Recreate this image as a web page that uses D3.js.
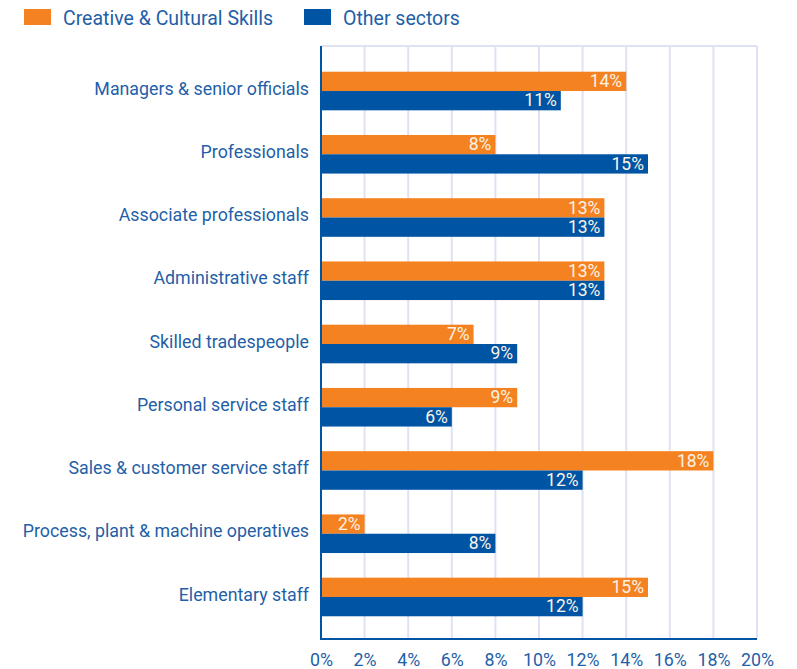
<!DOCTYPE html>
<html>
<head>
<meta charset="utf-8">
<script src="https://cdn.jsdelivr.net/npm/d3@7"></script>
<style>
  html, body { margin: 0; padding: 0; background: #ffffff; }
  svg { display: block; font-family: Roboto, "DejaVu Sans", sans-serif; }
</style>
</head>
<body>
<svg id="chart" width="797" height="669"></svg>
<script>
// Occupational profile: Creative & Cultural Skills vs other sectors (% of workforce)
const categories = [
  "Managers & senior officials",
  "Professionals",
  "Associate professionals",
  "Administrative staff",
  "Skilled tradespeople",
  "Personal service staff",
  "Sales & customer service staff",
  "Process, plant & machine operatives",
  "Elementary staff"
];
const creativeValues = [14, 8, 13, 13, 7, 9, 18, 2, 15];
const otherValues    = [11, 15, 13, 13, 9, 6, 12, 8, 12];
const seriesNames = ["Creative & Cultural Skills", "Other sectors"];
const xTicks = [0, 2, 4, 6, 8, 10, 12, 14, 16, 18, 20];

const colors = { creative: "#f58220", other: "#0054a4", text: "#1f5fa8", grid: "#dfe2f3", label: "#fbf3e6" };

const svg = d3.select("#chart");
const plot = { left: 321, right: 757, top: 46, bottom: 639 };

const x = d3.scaleLinear().domain([0, 20]).range([plot.left, plot.right]);
const y = d3.scaleBand().domain(categories).range([59.4, 628.6]).paddingInner(0).paddingOuter(0);
const barH = 19.3;

// vertical gridlines
svg.append("g").selectAll("line").data(xTicks.slice(1)).join("line")
  .attr("x1", d => x(d)).attr("x2", d => x(d))
  .attr("y1", plot.top).attr("y2", plot.bottom)
  .attr("stroke", colors.grid).attr("stroke-width", 2);
// top border line
svg.append("line")
  .attr("x1", plot.left).attr("x2", plot.right)
  .attr("y1", plot.top).attr("y2", plot.top)
  .attr("stroke", colors.grid).attr("stroke-width", 2);

const rows = categories.map((c, i) => ({ c, a: creativeValues[i], b: otherValues[i] }));

// bars
const g = svg.append("g");
g.selectAll("rect.creative").data(rows).join("rect")
  .attr("class", "creative")
  .attr("x", x(0)).attr("y", d => y(d.c) + y.bandwidth() / 2 - barH)
  .attr("width", d => x(d.a) - x(0)).attr("height", barH)
  .attr("fill", colors.creative);
g.selectAll("rect.other").data(rows).join("rect")
  .attr("class", "other")
  .attr("x", x(0) - 1).attr("y", d => y(d.c) + y.bandwidth() / 2)
  .attr("width", d => x(d.b) - x(0) + 1).attr("height", barH)
  .attr("fill", colors.other);

// value labels inside bars
g.selectAll("text.vc").data(rows).join("text")
  .attr("x", d => x(d.a) - 4).attr("y", d => y(d.c) + y.bandwidth() / 2 - barH / 2)
  .attr("dy", "0.33em").attr("text-anchor", "end")
  .attr("font-size", 17.5).attr("fill", colors.label)
  .text(d => d.a + "%");
g.selectAll("text.vo").data(rows).join("text")
  .attr("x", d => x(d.b) - 4).attr("y", d => y(d.c) + y.bandwidth() / 2 + barH / 2)
  .attr("dy", "0.33em").attr("text-anchor", "end")
  .attr("font-size", 17.5).attr("fill", colors.label)
  .text(d => d.b + "%");

// category labels
svg.append("g").selectAll("text").data(categories).join("text")
  .attr("x", 309).attr("y", d => y(d) + y.bandwidth() / 2)
  .attr("dy", "0.21em").attr("text-anchor", "end")
  .attr("font-size", 17.8).attr("fill", colors.text)
  .text(d => d);

// axes lines
svg.append("line")
  .attr("x1", plot.left).attr("x2", plot.left)
  .attr("y1", plot.top).attr("y2", plot.bottom + 1)
  .attr("stroke", colors.other).attr("stroke-width", 2);
svg.append("line")
  .attr("x1", plot.left - 1).attr("x2", plot.right)
  .attr("y1", plot.bottom).attr("y2", plot.bottom)
  .attr("stroke", colors.other).attr("stroke-width", 2);

// x tick labels
const xAxis = d3.axisBottom(x).tickValues(xTicks).tickFormat(d => d + "%").tickSize(0).tickPadding(0);
const ax = svg.append("g").attr("transform", `translate(0,${plot.bottom})`).call(xAxis);
ax.select(".domain").remove();
ax.selectAll("text").attr("font-size", 17.8).attr("fill", colors.text)
  .attr("font-family", "Roboto, 'DejaVu Sans', sans-serif")
  .attr("y", 27).attr("dy", 0);

// legend
const legend = svg.append("g");
const legendItems = [
  { name: seriesNames[0], color: colors.creative, x: 24 },
  { name: seriesNames[1], color: colors.other, x: 304 }
];
legend.selectAll("rect").data(legendItems).join("rect")
  .attr("x", d => d.x).attr("y", 9).attr("width", 27).attr("height", 16)
  .attr("fill", d => d.color);
legend.selectAll("text").data(legendItems).join("text")
  .attr("x", d => d.x + 39).attr("y", 25)
  .attr("font-size", 19.5).attr("fill", colors.text)
  .text(d => d.name);
</script>
</body>
</html>
